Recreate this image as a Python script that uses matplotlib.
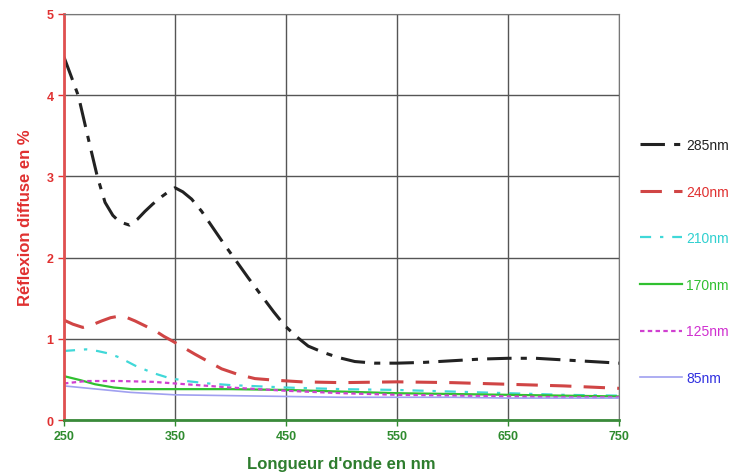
import matplotlib
matplotlib.use("Agg")
import matplotlib.pyplot as plt

plt.rcParams['font.family'] = ['Liberation Sans', 'DejaVu Sans']

# 285 nm
wl285 = [250, 256, 263, 272, 280, 287, 294, 300, 309, 316, 323, 330, 338, 344, 350, 357, 365, 374, 383, 393, 404, 416, 428, 439, 449, 460, 470, 484, 497, 512, 530, 550, 575, 600, 625, 650, 675, 700, 725, 750]
s285 = [4.47, 4.25, 3.99, 3.46, 3.0, 2.68, 2.52, 2.44, 2.40, 2.47, 2.57, 2.66, 2.75, 2.81, 2.86, 2.81, 2.72, 2.57, 2.39, 2.19, 1.98, 1.75, 1.53, 1.33, 1.16, 1.02, 0.91, 0.83, 0.77, 0.72, 0.70, 0.70, 0.71, 0.73, 0.75, 0.76, 0.76, 0.74, 0.72, 0.70]
# 240 nm
wl240 = [250, 258, 267, 275, 284, 292, 300, 307, 314, 323, 332, 340, 348, 358, 368, 380, 392, 407, 422, 440, 464, 500, 550, 600, 650, 700, 750]
s240 = [1.23, 1.18, 1.14, 1.17, 1.22, 1.26, 1.28, 1.26, 1.22, 1.16, 1.10, 1.03, 0.97, 0.89, 0.81, 0.72, 0.63, 0.56, 0.51, 0.49, 0.47, 0.46, 0.47, 0.46, 0.44, 0.42, 0.39]
# 210 nm
wl210 = [250, 260, 270, 280, 290, 300, 314, 330, 344, 360, 380, 400, 450, 500, 550, 600, 650, 700, 750]
s210 = [0.85, 0.86, 0.87, 0.85, 0.82, 0.77, 0.67, 0.58, 0.52, 0.48, 0.45, 0.43, 0.40, 0.38, 0.37, 0.35, 0.33, 0.31, 0.30]
# 170 nm
wl170 = [250, 265, 278, 295, 311, 330, 350, 400, 450, 500, 550, 600, 650, 700, 750]
s170 = [0.54, 0.49, 0.44, 0.40, 0.38, 0.38, 0.38, 0.38, 0.37, 0.35, 0.33, 0.32, 0.31, 0.30, 0.29]
# 125 nm
wl125 = [250, 270, 300, 330, 350, 400, 450, 500, 550, 600, 650, 700, 750]
s125 = [0.45, 0.48, 0.48, 0.47, 0.45, 0.40, 0.36, 0.33, 0.31, 0.30, 0.29, 0.28, 0.28]
# 85 nm
wl85 = [250, 280, 310, 350, 400, 450, 500, 550, 600, 650, 700, 750]
s85 = [0.42, 0.38, 0.34, 0.31, 0.30, 0.29, 0.28, 0.28, 0.28, 0.27, 0.27, 0.27]

labels = ["285nm", "240nm", "210nm", "170nm", "125nm", "85nm"]
xticks = [250, 350, 450, 550, 650, 750]
yticks = [0, 1, 2, 3, 4, 5]

fig = plt.figure(figsize=(7.37, 4.77), dpi=100)
ax = fig.add_axes([0.0868, 0.1174, 0.7532, 0.8512])

xs = [wl285, wl240, wl210, wl170, wl125, wl85]
series = [s285, s240, s210, s170, s125, s85]
colors = ['#222222', '#d04545', '#40d8d8', '#30c030', '#d040d0', '#a0a0f0']
text_colors = ['#222222', '#e03030', '#30d0d0', '#30c030', '#d030d0', '#3030e0']
styles = [(0, (8, 3, 2, 3)), (0, (7, 4)), (0, (5, 4, 1.5, 4)), '-', (0, (2, 1.5)), '-']
widths = [2.2, 2.2, 1.6, 1.6, 1.6, 1.2]

handles = []
for x, s, c, ls, lw, lab in zip(xs, series, colors, styles, widths, labels):
    h, = ax.plot(x, s, color=c, linestyle=ls, linewidth=lw, label=lab)
    handles.append(h)

ax.set_xlim(250, 750)
ax.set_ylim(0, 5)
ax.set_xticks(xticks)
ax.set_yticks(yticks)
ax.grid(True, color='#555555', linewidth=1.0)
ax.set_axisbelow(True)

for side in ['top', 'right']:
    ax.spines[side].set_color('#777777')
ax.spines['left'].set_color('#e05050')
ax.spines['left'].set_linewidth(2)
ax.spines['bottom'].set_color('#3a8a3a')
ax.spines['bottom'].set_linewidth(2)

ax.tick_params(axis='y', colors='#e03030', labelsize=9, length=4, width=1)
ax.tick_params(axis='x', colors='#2e8b2e', labelsize=9, length=4, width=1)
for t in ax.get_yticklabels():
    t.set_fontweight('bold')
for t in ax.get_xticklabels():
    t.set_fontweight('bold')

ax.set_ylabel("Réflexion diffuse en %", color='#e03030', fontsize=12, fontweight='bold', labelpad=10)
ax.set_xlabel("Longueur d'onde en nm", color='#2e7d2e', fontsize=12, fontweight='bold', labelpad=10)

leg = fig.legend(handles, labels, loc='upper left', bbox_to_anchor=(0.852, 0.735),
                 frameon=False, fontsize=10, handlelength=3.0, handletextpad=0.3,
                 labelspacing=2.35)
for t, c in zip(leg.get_texts(), text_colors):
    t.set_color(c)

fig.savefig("out.png", dpi=100)
